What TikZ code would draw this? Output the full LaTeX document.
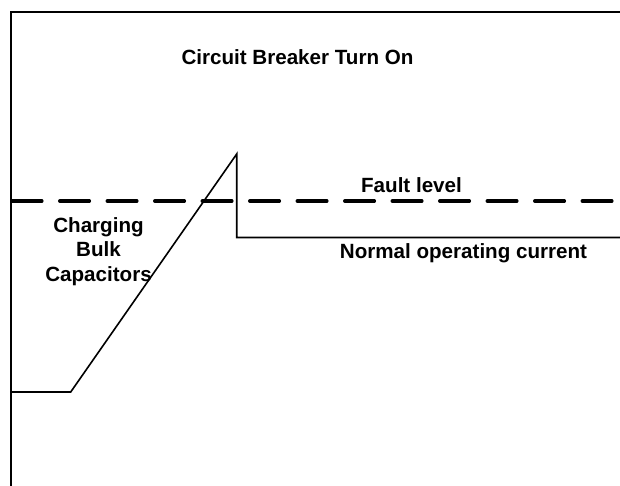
\documentclass[tikz,border=0pt]{standalone}
\usepackage{fontspec}
\setmainfont{Liberation Sans}
\begin{document}
\begin{tikzpicture}[x=1pt,y=-1pt,
  lbl/.style={font=\bfseries\fontsize{20.6}{24.5}\selectfont, inner sep=0pt, anchor=base},
  frameline/.style={line width=2pt, line join=miter},
  wave/.style={line width=1.6pt, line join=miter},
  faultline/.style={line width=3.5pt, line cap=round, dash pattern=on 29.5pt off 18pt}]
\useasboundingbox (0,0) rectangle (620,485);
% frame
\coordinate (fbl) at (11,486);
\coordinate (ftl) at (11,12);
\coordinate (ftr) at (621,12);
\draw[frameline] (fbl) -- (ftl) -- (ftr);
% fault level
\coordinate (fl0) at (12.3,201);
\coordinate (fl1) at (622,201);
\draw[faultline] (fl0) -- (fl1);
% waveform
\coordinate (w0) at (11,392);
\coordinate (w1) at (70.7,392);
\coordinate (w2) at (236.7,154);
\coordinate (w3) at (236.7,237.5);
\coordinate (w4) at (621,237.5);
\draw[wave] (w0) -- (w1) -- (w2) -- (w3) -- (w4);
% labels
\node[lbl] (title) at (297.5,64.3) {Circuit Breaker Turn On};
\node[lbl] (fault) at (411.5,192) {Fault level};
\node[lbl] (normal) at (463.5,258) {Normal operating current};
\node[lbl] (cb1) at (98.5,232) {Charging};
\node[lbl] (cb2) at (98.5,256.5) {Bulk};
\node[lbl] (cb3) at (98.5,281) {Capacitors};
\end{tikzpicture}
\end{document}
